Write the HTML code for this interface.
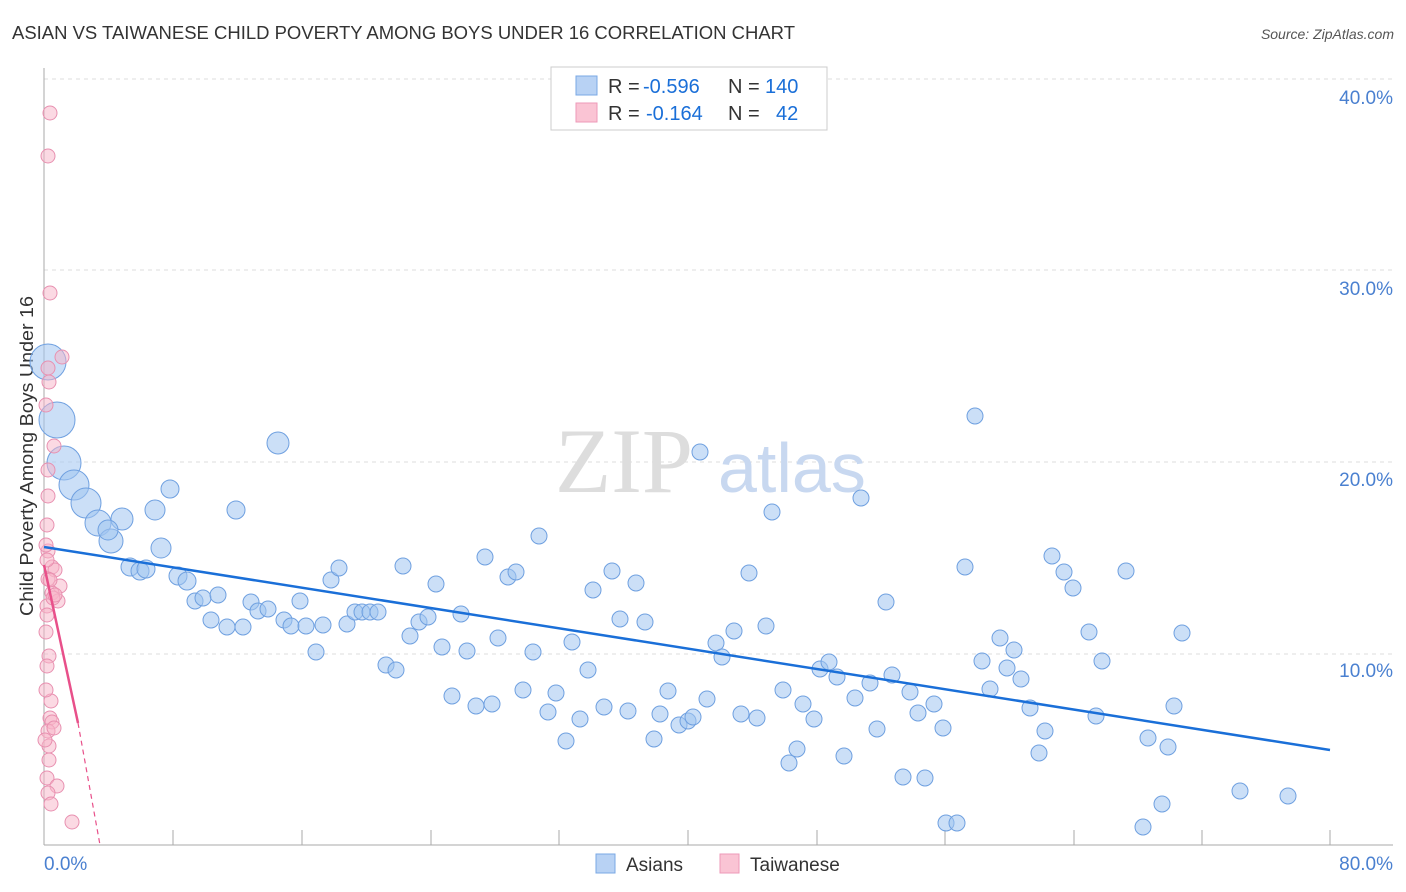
<!DOCTYPE html>
<html><head><meta charset="utf-8"><style>
body{margin:0;background:#fff;font-family:"Liberation Sans",sans-serif}
svg{display:block}
</style></head><body>
<svg id="s" width="1406" height="892" xmlns="http://www.w3.org/2000/svg">
<text x="12" y="39" font-size="18" fill="#333" textLength="783" lengthAdjust="spacingAndGlyphs">ASIAN VS TAIWANESE CHILD POVERTY AMONG BOYS UNDER 16 CORRELATION CHART</text>
<text x="1394" y="39" font-size="14" fill="#555" font-style="italic" text-anchor="end">Source: ZipAtlas.com</text>
<g stroke="#ddd" stroke-dasharray="4,4" stroke-width="1">
<line x1="44" y1="79" x2="1393" y2="79"/><line x1="44" y1="270" x2="1393" y2="270"/>
<line x1="44" y1="462" x2="1393" y2="462"/><line x1="44" y1="654" x2="1393" y2="654"/>
</g>
<line x1="44" y1="68" x2="44" y2="845" stroke="#aaa"/>
<line x1="44" y1="845" x2="1393" y2="845" stroke="#aaa"/>
<g stroke="#aaa" id="ticks"></g>
<g font-size="19" fill="#4a80d0" text-anchor="end">
<text x="1393" y="104">40.0%</text><text x="1393" y="295">30.0%</text>
<text x="1393" y="486">20.0%</text><text x="1393" y="677">10.0%</text>
</g>
<text x="44" y="870" font-size="19" fill="#4a80d0">0.0%</text>
<text x="1393" y="870" font-size="19" fill="#4a80d0" text-anchor="end">80.0%</text>
<text transform="translate(33,456) rotate(-90)" font-size="18" fill="#333" text-anchor="middle" textLength="320" lengthAdjust="spacingAndGlyphs">Child Poverty Among Boys Under 16</text>
<text x="555" y="492" font-size="92" fill="#ddd" font-family="Liberation Serif">ZIP</text>
<text x="718" y="492" font-size="70" fill="#c8d8f0">atlas</text>
<g id="pts"></g>
<line x1="44" y1="547" x2="1330" y2="750" stroke="#1a6fd8" stroke-width="2.5"/>
<line x1="44" y1="565" x2="78" y2="723" stroke="#e8508a" stroke-width="2.5"/>
<line x1="78" y1="723" x2="100" y2="845" stroke="#e8508a" stroke-width="1.2" stroke-dasharray="5,4"/>
<rect x="551" y="67" width="276" height="63" fill="#fff" stroke="#ccc"/>
<rect x="576" y="76" width="21" height="19" fill="#b8d2f4" stroke="#7aa8e4"/>
<rect x="576" y="103" width="21" height="19" fill="#fac4d4" stroke="#ee9ab8"/>
<g font-size="20" fill="#333">
<text x="608" y="93">R =</text><text x="643" y="93" fill="#1a6fd8">-0.596</text>
<text x="728" y="93">N =</text><text x="765" y="93" fill="#1a6fd8">140</text>
<text x="608" y="120">R =</text><text x="646" y="120" fill="#1a6fd8">-0.164</text>
<text x="728" y="120">N =</text><text x="776" y="120" fill="#1a6fd8">42</text>
</g>
<rect x="596" y="854" width="19" height="19" fill="#b8d2f4" stroke="#7aa8e4"/>
<text x="626" y="871" font-size="19" fill="#333">Asians</text>
<rect x="720" y="854" width="19" height="19" fill="#fac4d4" stroke="#ee9ab8"/>
<text x="750" y="871" font-size="19" fill="#333">Taiwanese</text>
</svg>
<script>
var ns="http://www.w3.org/2000/svg";
var t=document.getElementById("ticks");
[173,302,431,559,688,817,945,1074,1202,1330].forEach(function(x){var l=document.createElementNS(ns,"line");l.setAttribute("x1",x);l.setAttribute("x2",x);l.setAttribute("y1",830);l.setAttribute("y2",845);t.appendChild(l);});
var B=[[48,362,18],[57,420,18],[64,463,17],[74,485,15],[86,503,15],[98,523,13],[111,541,12],[122,519,11],[108,530,10],[130,567,9],[140,571,9],[146,569,9],[161,548,10],[170,489,9],[155,510,10],[178,576,9],[187,581,9],[195,601,8],[203,598,8],[211,620,8],[218,595,8],[227,627,8],[236,510,9],[243,627,8],[251,602,8],[258,611,8],[268,609,8],[278,443,11],[284,620,8],[291,626,8],[300,601,8],[306,626,8],[316,652,8],[323,625,8],[331,580,8],[339,568,8],[347,624,8],[355,612,8],[362,612,8],[370,612,8],[378,612,8],[386,665,8],[396,670,8],[403,566,8],[410,636,8],[419,622,8],[428,617,8],[436,584,8],[442,647,8],[452,696,8],[461,614,8],[467,651,8],[476,706,8],[485,557,8],[492,704,8],[498,638,8],[508,577,8],[516,572,8],[523,690,8],[533,652,8],[539,536,8],[548,712,8],[556,693,8],[566,741,8],[572,642,8],[580,719,8],[588,670,8],[593,590,8],[604,707,8],[612,571,8],[620,619,8],[628,711,8],[636,583,8],[645,622,8],[654,739,8],[660,714,8],[668,691,8],[679,725,8],[688,721,8],[693,717,8],[700,452,8],[707,699,8],[716,643,8],[722,657,8],[734,631,8],[741,714,8],[749,573,8],[757,718,8],[766,626,8],[772,512,8],[783,690,8],[789,763,8],[797,749,8],[803,704,8],[814,719,8],[820,669,8],[829,662,8],[837,677,8],[844,756,8],[855,698,8],[861,498,8],[870,683,8],[877,729,8],[886,602,8],[892,675,8],[903,777,8],[910,692,8],[918,713,8],[925,778,8],[934,704,8],[943,728,8],[946,823,8],[957,823,8],[965,567,8],[975,416,8],[982,661,8],[990,689,8],[1000,638,8],[1007,668,8],[1014,650,8],[1021,679,8],[1030,708,8],[1039,753,8],[1045,731,8],[1052,556,8],[1064,572,8],[1073,588,8],[1089,632,8],[1096,716,8],[1102,661,8],[1126,571,8],[1143,827,8],[1148,738,8],[1162,804,8],[1168,747,8],[1174,706,8],[1182,633,8],[1240,791,8],[1288,796,8]];
var P=[[50,113],[48,156],[50,293],[62,357],[48,368],[49,382],[46,405],[54,446],[48,470],[48,496],[47,525],[48,551],[52,567],[55,570],[48,579],[60,586],[52,593],[58,601],[47,606],[46,632],[49,656],[47,666],[50,718],[52,722],[48,731],[54,728],[49,746],[49,760],[47,778],[57,786],[48,793],[51,804],[72,822],[46,545],[50,580],[53,598],[47,615],[51,701],[45,740],[46,690],[47,560],[55,595]];
var g=document.getElementById("pts");
function c(x,y,r,f,s){var e=document.createElementNS(ns,"circle");e.setAttribute("cx",x);e.setAttribute("cy",y);e.setAttribute("r",r);e.setAttribute("fill",f);e.setAttribute("stroke",s);e.setAttribute("stroke-width",1);g.appendChild(e);}
B.forEach(function(p){c(p[0],p[1],p[2],"rgba(160,196,240,0.55)","#6fa0e0");});
P.forEach(function(p){c(p[0],p[1],7,"rgba(248,180,200,0.5)","#e890b0");});
</script>
</body></html>
